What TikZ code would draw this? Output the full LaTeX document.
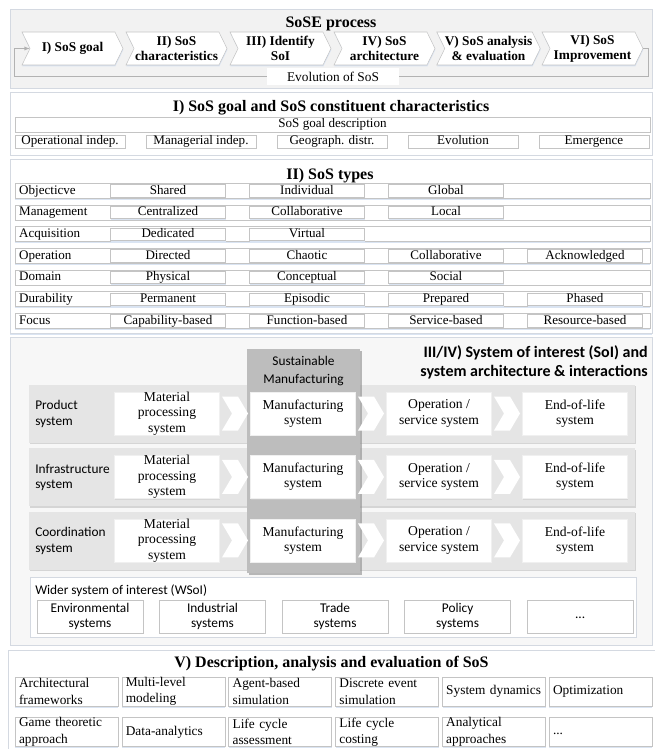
\documentclass[tikz,border=0pt]{standalone}
\usepackage{fontspec}
\setmainfont{Liberation Serif}
\setsansfont{Carlito}
\usetikzlibrary{shapes.symbols,shadows,arrows}

\definecolor{frameline}{RGB}{212,217,225}
\definecolor{shadowblue}{RGB}{218,228,242}
\definecolor{cellline}{RGB}{196,196,196}
\definecolor{procfill}{RGB}{242,242,242}
\definecolor{bandfill}{RGB}{229,229,229}
\definecolor{smfill}{RGB}{189,189,189}
\definecolor{soifill}{RGB}{247,247,247}

\tikzstyle{softshadow} = [drop shadow={shadow xshift=0.3pt, shadow yshift=-1pt, fill=shadowblue, opacity=1}]
\tikzstyle{panel} = [draw=frameline, fill=white, rectangle, minimum width=481.5pt, softshadow]
\tikzstyle{sectitle} = [inner sep=0pt, font=\fontsize{12}{14}\selectfont\bfseries]
\tikzstyle{sanstitle} = [inner sep=0pt, align=right, anchor=east, font=\sffamily\bfseries\fontsize{12}{14.3}\selectfont]
\tikzstyle{procstep} = [signal, signal to=east, signal from=west, signal pointer angle=128, draw=cellline, fill=white, minimum width=75.75pt, minimum height=24.75pt, inner sep=0pt, align=center, node distance=78pt, font=\fontsize{10}{11.3}\selectfont\bfseries, softshadow]
\tikzstyle{plaincell} = [draw=cellline, fill=white, rectangle, inner sep=0pt, text height=7pt, text depth=2pt, font=\fontsize{9.8}{12}\selectfont, softshadow]
\tikzstyle{goalcell} = [plaincell, minimum width=82.5pt, minimum height=9.75pt, node distance=98.25pt]
\tikzstyle{rowbox} = [plaincell, text width=470pt, inner xsep=3.1pt, minimum height=11.25pt, align=left, node distance=16.25pt]
\tikzstyle{typecell} = [plaincell, minimum width=86.25pt, minimum height=9.4pt, node distance=104.25pt]
\tikzstyle{sysband} = [rectangle, fill=bandfill, minimum width=454.5pt, minimum height=43.5pt, node distance=47.6pt, drop shadow={shadow xshift=0.5pt, shadow yshift=-1pt, fill=black!25, opacity=0.6}]
\tikzstyle{smcolumn} = [rectangle, fill=smfill, minimum width=84.75pt, minimum height=168pt, drop shadow={shadow xshift=1.2pt, shadow yshift=-1.5pt, fill=black!45, opacity=0.6}]
\tikzstyle{syslabel} = [anchor=west, align=left, inner sep=0pt, font=\sffamily\fontsize{10}{11.8}\selectfont]
\tikzstyle{sysbox} = [rectangle, draw=black!6, fill=white, minimum width=78.75pt, minimum height=32.25pt, inner sep=0pt, align=center, node distance=51pt, font=\fontsize{10.2}{11.5}\selectfont, drop shadow={shadow xshift=0.5pt, shadow yshift=-0.8pt, fill=black!20, opacity=0.6}]
\tikzstyle{flowchev} = [signal, signal to=east, signal from=west, signal pointer angle=119, fill=white, minimum width=19.5pt, minimum height=25.5pt, inner sep=0pt, node distance=51pt]
\tikzstyle{wsoicell} = [draw=cellline, fill=white, rectangle, minimum width=79.5pt, minimum height=24.75pt, inner sep=0pt, align=center, node distance=91.9pt, font=\sffamily\fontsize{10}{11.8}\selectfont, softshadow]
\tikzstyle{methodcell} = [draw=cellline, fill=white, rectangle, text width=71.2pt, inner xsep=3pt, inner ysep=0pt, minimum height=22pt, align=left, node distance=80.1pt, font=\fontsize{10}{12.4}\selectfont, softshadow]
\tikzstyle{looparrow} = [draw=black!30, -latex]

\begin{document}
\begin{tikzpicture}[x=0.75pt, y=-0.75pt]
  \useasboundingbox (0,0) rectangle (654,749);

  % SoSE process
  \node[panel, fill=procfill, minimum height=59.25pt] (process) at (331,48.5) {};
  \node[sectitle] (processtitle) at (331,24) {SoSE process};
  \node[procstep] (goal) at (72.5,48.5) {I) SoS goal};
  \node[procstep, right of=goal] (charac) {II) SoS\\characteristics};
  \node[procstep, right of=charac] (identify) {III) Identify\\SoI};
  \node[procstep, right of=identify] (archi) {IV) SoS\\architecture};
  \node[procstep, right of=archi] (analysis) {V) SoS analysis\\\& evaluation};
  \node[procstep, right of=analysis] (improve) {VI) SoS\\Improvement};
  \coordinate (loopright) at (648,76);
  \coordinate (loopleft) at (14,76);
  \draw[looparrow] (improve.east) -| (loopright) -- (loopleft) |- (goal.west);
  \node[fill=white, inner sep=0pt, minimum width=99pt, minimum height=12.75pt, font=\fontsize{10}{12}\selectfont] (evolution) at (333,76.5) {Evolution of SoS};

  % I) goal and constituent characteristics
  \node[panel, minimum height=47.25pt] (goalpanel) at (331,123.5) {};
  \node[sectitle] (goaltitle) at (331,107.5) {I) SoS goal and SoS constituent characteristics};
  \node[plaincell, minimum width=476.25pt, minimum height=11.25pt] (goaldesc) at (332.5,124.5) {SoS goal description};
  \node[goalcell] (opindep) at (70,141.5) {Operational indep.};
  \node[goalcell, right of=opindep] (manindep) {Managerial indep.};
  \node[goalcell, right of=manindep] (geodistr) {Geograph. distr.};
  \node[goalcell, right of=geodistr] (evolcell) {Evolution};
  \node[goalcell, right of=evolcell] (emergence) {Emergence};

  % II) SoS types
  \node[panel, minimum height=130.5pt] (typepanel) at (331,246.5) {};
  \node[sectitle] (typetitle) at (330,176) {II) SoS types};
  \node[rowbox] (objective) at (332.5,190.8) {Objecticve};
  \node[rowbox, below of=objective] (management) {Management};
  \node[rowbox, below of=management] (acquisition) {Acquisition};
  \node[rowbox, below of=acquisition] (operation) {Operation};
  \node[rowbox, below of=operation] (domain) {Domain};
  \node[rowbox, below of=domain] (durability) {Durability};
  \node[rowbox, below of=durability] (focus) {Focus};
  \node[typecell] (shared) at (168,190.8) {Shared};
  \node[typecell, right of=shared] (individual) {Individual};
  \node[typecell, right of=individual] (global) {Global};
  \node[typecell, below of=shared, node distance=16.25pt] (centralized) {Centralized};
  \node[typecell, right of=centralized] (collabmgmt) {Collaborative};
  \node[typecell, right of=collabmgmt] (local) {Local};
  \node[typecell, below of=centralized, node distance=16.25pt] (dedicated) {Dedicated};
  \node[typecell, right of=dedicated] (virtual) {Virtual};
  \node[typecell, below of=dedicated, node distance=16.25pt] (directed) {Directed};
  \node[typecell, right of=directed] (chaotic) {Chaotic};
  \node[typecell, right of=chaotic] (collabop) {Collaborative};
  \node[typecell, right of=collabop] (acknowledged) {Acknowledged};
  \node[typecell, below of=directed, node distance=16.25pt] (physical) {Physical};
  \node[typecell, right of=physical] (conceptual) {Conceptual};
  \node[typecell, right of=conceptual] (social) {Social};
  \node[typecell, below of=physical, node distance=16.25pt] (permanent) {Permanent};
  \node[typecell, right of=permanent] (episodic) {Episodic};
  \node[typecell, right of=episodic] (prepared) {Prepared};
  \node[typecell, right of=prepared] (phased) {Phased};
  \node[typecell, below of=permanent, node distance=16.25pt] (capability) {Capability-based};
  \node[typecell, right of=capability] (function) {Function-based};
  \node[typecell, right of=function] (service) {Service-based};
  \node[typecell, right of=service] (resource) {Resource-based};

  % III/IV) SoI and architecture
  \node[panel, fill=soifill, minimum height=231pt] (soipanel) at (331,491) {};
  \node[sanstitle] (soititle) at (648,362.5) {III/IV) System of interest (SoI) and\\system architecture \& interactions};
  \node[sysband] (productband) at (332,414) {};
  \node[sysband, below of=productband] (infraband) {};
  \node[sysband, below of=infraband] (coordband) {};
  \node[smcolumn] (sustcolumn) at (303.5,461) {};
  \node[inner sep=0pt, align=center, font=\sffamily\fontsize{10}{13.5}\selectfont] (sustlabel) at (303.5,371) {Sustainable\\Manufacturing};
  \node[syslabel] (productlabel) at (35,414) {Product\\system};
  \node[syslabel] (infralabel) at (35,477.5) {Infrastructure\\system};
  \node[syslabel] (coordlabel) at (35,541) {Coordination\\system};

  \node[sysbox] (material1) at (167,413.5) {Material\\processing\\system};
  \node[flowchev, right of=material1] (flow11) {};
  \node[sysbox, right of=flow11] (manuf1) {Manufacturing\\system};
  \node[flowchev, right of=manuf1] (flow12) {};
  \node[sysbox, right of=flow12] (oper1) {Operation /\\service system};
  \node[flowchev, right of=oper1] (flow13) {};
  \node[sysbox, right of=flow13] (eol1) {End-of-life\\system};

  \node[sysbox, below of=material1, node distance=47.6pt] (material2) {Material\\processing\\system};
  \node[flowchev, right of=material2] (flow21) {};
  \node[sysbox, right of=flow21] (manuf2) {Manufacturing\\system};
  \node[flowchev, right of=manuf2] (flow22) {};
  \node[sysbox, right of=flow22] (oper2) {Operation /\\service system};
  \node[flowchev, right of=oper2] (flow23) {};
  \node[sysbox, right of=flow23] (eol2) {End-of-life\\system};

  \node[sysbox, below of=material2, node distance=47.6pt] (material3) {Material\\processing\\system};
  \node[flowchev, right of=material3] (flow31) {};
  \node[sysbox, right of=flow31] (manuf3) {Manufacturing\\system};
  \node[flowchev, right of=manuf3] (flow32) {};
  \node[sysbox, right of=flow32] (oper3) {Operation /\\service system};
  \node[flowchev, right of=oper3] (flow33) {};
  \node[sysbox, right of=flow33] (eol3) {End-of-life\\system};

  \node[draw=frameline, fill=white, minimum width=454.5pt, minimum height=45pt, softshadow] (wsoi) at (333,607) {};
  \node[syslabel] (wsoilabel) at (35,591) {Wider system of interest (WSoI)};
  \node[wsoicell] (environmental) at (90,616.5) {Environmental\\systems};
  \node[wsoicell, right of=environmental] (industrial) {Industrial\\systems};
  \node[wsoicell, right of=industrial] (trade) {Trade\\systems};
  \node[wsoicell, right of=trade] (policy) {Policy\\systems};
  \node[wsoicell, right of=policy] (moresys) {\raisebox{-3.2pt}{...}};

  % V) description, analysis and evaluation
  \node[panel, minimum width=489pt, minimum height=90pt] (methodpanel) at (334,710) {};
  \node[sectitle] (methodtitle) at (331.5,664) {V) Description, analysis and evaluation of SoS};
  \node[methodcell] (archfw) at (66.5,691.5) {Architectural\\frameworks};
  \node[methodcell, right of=archfw] (multilevel) {Multi-level\\modeling};
  \node[methodcell, right of=multilevel] (agentsim) {Agent-based\\simulation};
  \node[methodcell, right of=agentsim] (dessim) {Discrete event\\simulation};
  \node[methodcell, right of=dessim] (sysdyn) {System dynamics};
  \node[methodcell, right of=sysdyn] (optim) {Optimization};
  \node[methodcell, below of=archfw, node distance=30.4pt] (gametheory) {Game theoretic\\approach};
  \node[methodcell, right of=gametheory] (dataan) {Data-analytics};
  \node[methodcell, right of=dataan] (lca) {Life cycle\\assessment};
  \node[methodcell, right of=lca] (lcc) {Life cycle\\costing};
  \node[methodcell, right of=lcc] (analytical) {Analytical\\approaches};
  \node[methodcell, right of=analytical] (moremeth) {\raisebox{-3.5pt}{...}};
\end{tikzpicture}
\end{document}
